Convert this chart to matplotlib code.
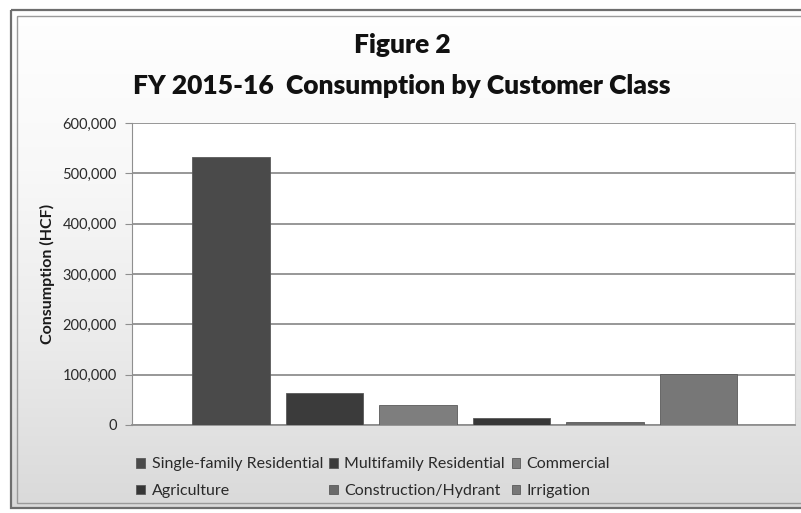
import matplotlib.pyplot as plt
import matplotlib.patches as mpatches
from matplotlib.ticker import FuncFormatter
import numpy as np

# consumption in HCF, FY 2015-16
classes = ["Single-family Residential", "Multifamily Residential", "Commercial",
           "Agriculture", "Construction/Hydrant", "Irrigation"]
consumption = [532000, 64500, 39500, 14000, 6000, 101000]
bar_colors = ["#4a4a4a", "#3b3b3b", "#7e7e7e", "#363636", "#6a6a6a", "#777777"]
yticks = [0, 100000, 200000, 300000, 400000, 500000, 600000]

W, H = 801, 513
fig = plt.figure(figsize=(W / 100, H / 100), dpi=100)
plt.rcParams['font.family'] = ['Lato', 'DejaVu Sans']

# grey backdrop, near white at the top
bg = fig.add_axes([0, 0, 1, 1], zorder=-5)
grad = np.linspace(0, 1, 256).reshape(-1, 1)
bg.imshow(grad, cmap=plt.cm.colors.LinearSegmentedColormap.from_list(
    "g", ["#ffffff", "#f8f8f8", "#ebebeb", "#d9d9d9"]), aspect="auto",
    extent=[0, W, H, 0], origin="upper")
bg.set_xlim(0, W)
bg.set_ylim(H, 0)
bg.axis("off")
# white strip outside the frame, then the double frame line
bg.add_patch(mpatches.Rectangle((0, 0), 9, H, color="white", zorder=1))
bg.add_patch(mpatches.Rectangle((0, 0), W, 8, color="white", zorder=1))
bg.add_patch(mpatches.Rectangle((0, 509), W, 4, color="white", zorder=1))
bg.add_patch(mpatches.Rectangle((11, 10), W, 498, fill=False, ec="#6e6e6e", lw=1.6, zorder=2))
bg.add_patch(mpatches.Rectangle((17, 16), W, 487, fill=False, ec="#9a9a9a", lw=1.0, zorder=2))

x0, x1, ytop, ybot = 132, 795, 123, 425
ax = fig.add_axes([x0 / W, 1 - ybot / H, (x1 - x0) / W, (ybot - ytop) / H])
ax.set_facecolor("white")

pos = np.arange(len(classes))
bars = ax.bar(pos, consumption, width=0.83, color=bar_colors,
              edgecolor="#5a5a5a", linewidth=0.6, zorder=3)

ax.set_xlim(-1.06, 6.03)
ax.set_ylim(0, 600000)
ax.set_yticks(yticks)
ax.yaxis.set_major_formatter(FuncFormatter(lambda v, p: f"{v:,.0f}"))
ax.set_xticks([])
ax.grid(axis="y", color="#8f8f8f", linewidth=1.3, zorder=1)
ax.tick_params(axis="y", length=5, color="#8f8f8f", labelsize=10.5,
               labelcolor="#2a2a2a", pad=6)
ax.spines["top"].set_visible(False)
ax.spines["left"].set_color("#8f8f8f")
ax.spines["bottom"].set_color("#8f8f8f")
ax.spines["bottom"].set_linewidth(1.3)
ax.spines["right"].set_color("#d0d0d0")
ax.set_ylabel("Consumption (HCF)", fontsize=11.5, fontweight="bold",
              color="#1a1a1a", labelpad=5)

fig.text(0.502, 1 - 45 / H, "Figure 2", ha="center", va="center",
         fontsize=19, fontweight="heavy", color="#111111")
fig.text(0.502, 1 - 86 / H, "FY 2015-16  Consumption by Customer Class", ha="center",
         va="center", fontsize=19, fontweight="heavy", color="#111111")

# row-major order across three columns
order = [0, 3, 1, 4, 2, 5]
handles = [bars[i] for i in order]
labels = [classes[i] for i in order]
leg = fig.legend(handles, labels, ncol=3, loc="upper left",
                 bbox_to_anchor=(122 / W, 1 - 443 / H), frameon=False,
                 fontsize=11.5, handlelength=0.55, handleheight=0.55,
                 handletextpad=0.4, columnspacing=0.4, labelspacing=0.8)
for t in leg.get_texts():
    t.set_color("#2a2a2a")

fig.savefig("out.png", dpi=100)
